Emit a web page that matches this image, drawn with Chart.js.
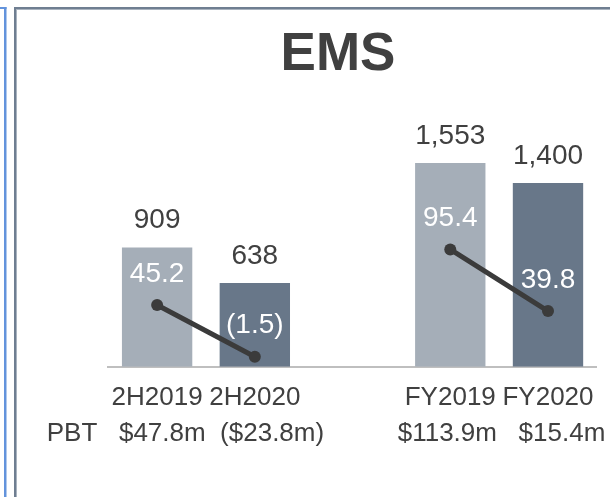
<!DOCTYPE html>
<html>
<head>
<meta charset="utf-8">
<style>
  html, body { margin: 0; padding: 0; background: #ffffff; }
  canvas { display: block; }
</style>
<script src="https://cdn.jsdelivr.net/npm/chart.js@4/dist/chart.umd.min.js"></script>
</head>
<body>
<canvas id="c" width="610" height="497"></canvas>
<script>
const categories = ['2H2019', '2H2020', '', 'FY2019', 'FY2020'];
const revenue = [909, 638, null, 1553, 1400];
const pbtMargin = [45.2, -1.5, null, 95.4, 39.8];
const pbtAmounts = ['$47.8m', '($23.8m)', '', '$113.9m', '$15.4m'];
const titleText = 'EMS';
const pbtCaption = 'PBT';

const FONT = "'Liberation Sans', Arial, sans-serif";
const LIGHT = '#a5aeb8';
const DARK = '#687789';
const TEXT = '#404040';
const barColors = categories.map((c, i) => (i % 3 === 0 ? LIGHT : DARK));

function fmtRevenue(v) { return v == null ? '' : v.toLocaleString('en-US'); }
function fmtMargin(v) { return v == null ? '' : (v < 0 ? '(' + Math.abs(v).toFixed(1) + ')' : v.toFixed(1)); }

const framePlugin = {
  id: 'frame',
  beforeDraw(chart) {
    const ctx = chart.ctx;
    ctx.save();
    ctx.fillStyle = '#ffffff';
    ctx.fillRect(0, 0, chart.width, chart.height);
    ctx.fillStyle = '#6393dc';
    ctx.fillRect(4, 7, 2.5, chart.height - 7);
    ctx.fillRect(0, 7, 6.5, 2);
    ctx.fillStyle = '#6f7e91';
    ctx.fillRect(14, 7, chart.width - 14, 2);
    ctx.fillRect(14, 7, 2, chart.height - 7);
    ctx.fillStyle = '#a9b3bf';
    ctx.fillRect(16, 9, chart.width - 16, 1);
    ctx.fillRect(16, 9, 1, chart.height - 9);
    ctx.restore();
  }
};

const labelPlugin = {
  id: 'labels',
  afterDatasetsDraw(chart) {
    const ctx = chart.ctx;
    ctx.save();
    ctx.textAlign = 'center';
    ctx.textBaseline = 'middle';
    const barMeta = chart.getDatasetMeta(1);
    ctx.font = '28px ' + FONT;
    ctx.fillStyle = TEXT;
    barMeta.data.forEach((bar, i) => {
      if (revenue[i] == null) return;
      ctx.fillText(fmtRevenue(revenue[i]), bar.x, bar.y - 27);
    });
    const lineMeta = chart.getDatasetMeta(0);
    ctx.fillStyle = '#ffffff';
    lineMeta.data.forEach((pt, i) => {
      if (pbtMargin[i] == null) return;
      ctx.fillText(fmtMargin(pbtMargin[i]), pt.x, pt.y - 31);
    });
    ctx.fillStyle = TEXT;
    ctx.font = 'bold 53px ' + FONT;
    ctx.textBaseline = 'alphabetic';
    ctx.fillText(titleText, 338, 70);
    ctx.font = '26px ' + FONT;
    ctx.textAlign = 'left';
    ctx.fillText(pbtCaption + '   ' + pbtAmounts[0] + '  ' + pbtAmounts[1], 46.7, 441);
    ctx.fillText(pbtAmounts[3] + '   ' + pbtAmounts[4], 397.7, 441);
    ctx.restore();
  }
};

new Chart(document.getElementById('c'), {
  data: {
    labels: categories,
    datasets: [
      {
        type: 'line',
        data: pbtMargin,
        yAxisID: 'y2',
        order: 1,
        borderColor: '#3b3b3b',
        borderWidth: 5,
        pointRadius: 6,
        pointHoverRadius: 6,
        pointBackgroundColor: '#3b3b3b',
        pointBorderWidth: 0,
        spanGaps: false,
        tension: 0
      },
      {
        type: 'bar',
        data: revenue,
        yAxisID: 'y',
        order: 2,
        backgroundColor: barColors,
        categoryPercentage: 0.9,
        barPercentage: 0.8
      }
    ]
  },
  options: {
    responsive: false,
    animation: false,
    events: [],
    layout: { padding: { left: 108.25, right: 9.25, top: 104.3, bottom: 67.85 } },
    plugins: {
      legend: { display: false },
      title: { display: false },
      tooltip: { enabled: false }
    },
    scales: {
      x: {
        offset: true,
        grid: { display: false, drawTicks: false },
        border: { display: true, color: '#bfbfbf', width: 2 },
        ticks: {
          color: TEXT,
          font: { family: FONT, size: 26, lineHeight: 1.2 },
          padding: 15.55,
          maxRotation: 0,
          autoSkip: false
        }
      },
      y: { display: false, min: 0, max: 2000 },
      y2: { display: false, min: -10.6, max: 226.5 }
    }
  },
  plugins: [framePlugin, labelPlugin]
});
</script>
</body>
</html>
